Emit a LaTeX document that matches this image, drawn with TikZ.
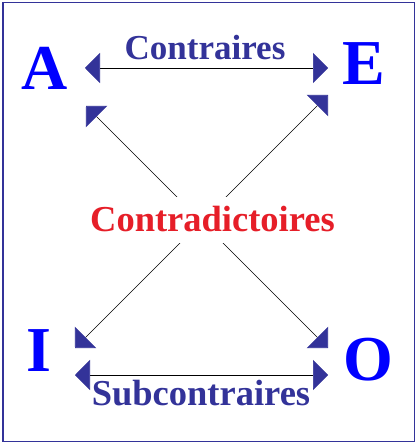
\documentclass[tikz,border=0pt]{standalone}
\usepackage{fontspec}
\setmainfont{Liberation Serif}
\usetikzlibrary{arrows.meta}
\definecolor{navy}{RGB}{51,51,153}
\definecolor{pureblue}{RGB}{0,0,255}
\definecolor{redlabel}{RGB}{230,30,40}
\tikzset{
  letter/.style={anchor=base, inner sep=0pt, text=pureblue, font=\fontsize{64}{64}\selectfont\bfseries},
  label/.style={anchor=base, inner sep=0pt, text=navy, font=\fontsize{35}{35}\selectfont\bfseries},
  biglabel/.style={label, font=\fontsize{36.5}{36.5}\selectfont\bfseries},
  bigtip/.tip={Triangle[length=15pt,width=30pt,color=navy]},
  rel/.style={draw=black, line width=0.7pt, {bigtip}-{bigtip}},
}
\begin{document}
\begin{tikzpicture}[x=1pt,y=-1pt]
\useasboundingbox (0,0) rectangle (419,446);
\draw[navy, line width=1.4pt] (3,2.5) rectangle (414.3,441.7);
% letters
\node[letter] (A) at (45,90) {A};
\node[letter] (E) at (364,85) {E};
\node[letter] (I) at (38.5,371) {I};
\node[letter] (O) at (368.5,380) {O};
% arrow ends
\coordinate (aR) at (85,68);
\coordinate (eL) at (328,68);
\coordinate (iR) at (75,375);
\coordinate (oL) at (328,375);
\coordinate (aD) at (86,106);
\coordinate (oU) at (328,348);
\coordinate (eD) at (328,95);
\coordinate (iU) at (75,348);
% connectors
\draw[rel] (aR) -- (eL);
\draw[rel] (iR) -- (oL);
\draw[rel] (aD) -- (oU);
\draw[rel] (eD) -- (iU);
% labels
\node[label] (contr) at (205,60) {Contraires};
\node[biglabel] (sub) at (201,405) {Subcontraires};
\node[biglabel, text=redlabel, fill=white, inner xsep=2pt, inner ysep=11pt, text height=24pt, text depth=0pt] (contra) at (212.5,231.7) {Contradictoires};
\end{tikzpicture}
\end{document}
